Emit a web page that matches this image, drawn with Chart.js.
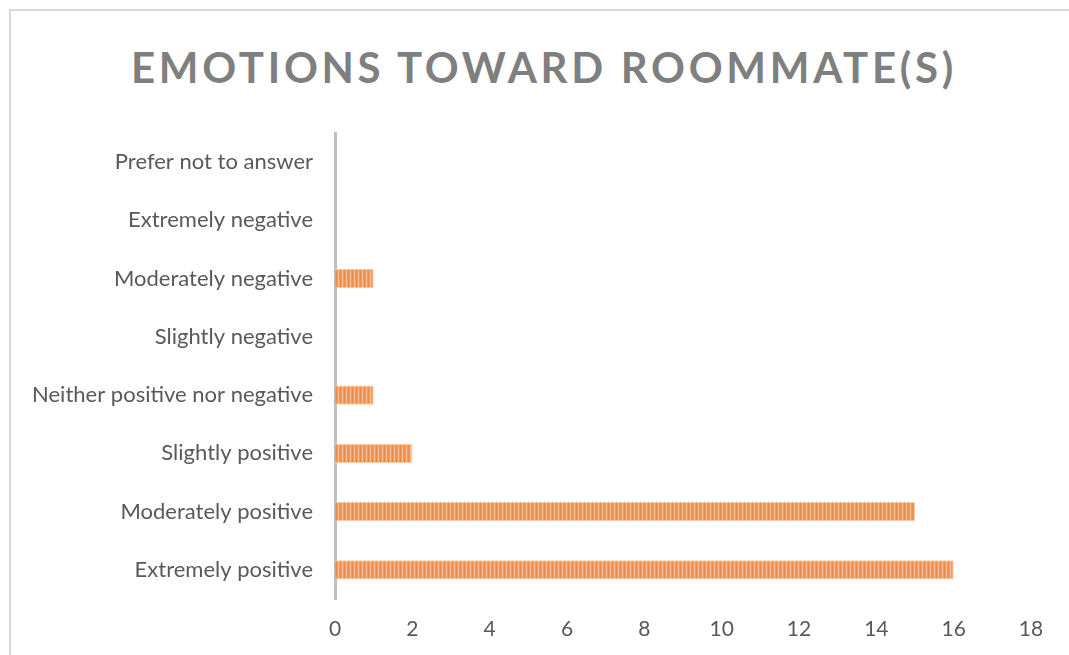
<!DOCTYPE html>
<html>
<head>
<meta charset="utf-8">
<script src="https://cdn.jsdelivr.net/npm/chart.js@4"></script>
<style>
  html, body { margin: 0; padding: 0; background: #fff; }
  #wrap { position: relative; width: 1069px; height: 655px; overflow: hidden; }
  #frame { position: absolute; left: 9px; top: 9px; width: 1100px; height: 700px; border: 2px solid #d9d9d9; box-sizing: border-box; }
  #title { position: absolute; left: 0; top: 42px; width: 1088px; text-align: center;
           font: bold 42px Lato, sans-serif; letter-spacing: 3.7px; color: #7f7f7f; }
  canvas { position: absolute; left: 0; top: 0; }
</style>
</head>
<body>
<div id="wrap">
  <div id="frame"></div>
  <div id="title">EMOTIONS TOWARD ROOMMATE(S)</div>
  <canvas id="emotionsChart" width="1069" height="655"></canvas>
</div>
<script>
// categories listed top to bottom, as in the picture
const categories = ['Prefer not to answer', 'Extremely negative', 'Moderately negative', 'Slightly negative',
  'Neither positive nor negative', 'Slightly positive', 'Moderately positive', 'Extremely positive'];
const counts = [0, 0, 1, 0, 1, 2, 15, 16];
const xTicks = [0, 2, 4, 6, 8, 10, 12, 14, 16, 18];

// vertical stripe fill like the original
function stripes() {
  const c = document.createElement('canvas');
  c.width = 4; c.height = 4;
  const g = c.getContext('2d');
  g.fillStyle = '#f29a5c'; g.fillRect(0, 0, 4, 4);
  g.fillStyle = '#f8bd92'; g.fillRect(2, 0, 1, 4);
  g.fillStyle = '#ef8d4b'; g.fillRect(0, 0, 1, 4);
  return g.createPattern(c, 'repeat');
}

const ctx = document.getElementById('emotionsChart').getContext('2d');
new Chart(ctx, {
  type: 'bar',
  data: {
    labels: categories,
    datasets: [{
      data: counts,
      backgroundColor: stripes(),
      borderColor: '#f8c9a5',
      borderWidth: 1,
      borderSkipped: 'start',
      barPercentage: 0.66,
      categoryPercentage: 0.5
    }]
  },
  options: {
    indexAxis: 'y',
    responsive: false,
    animation: false,
    layout: { padding: { top: 133, right: 38, left: 0, bottom: 0 } },
    plugins: { legend: { display: false }, tooltip: { enabled: false } },
    scales: {
      x: {
        min: 0, max: 18,
        afterBuildTicks: axis => { axis.ticks = xTicks.map(v => ({ value: v })); },
        afterFit: axis => { axis.height = 56; },
        grid: { display: false, drawTicks: false },
        border: { display: false },
        ticks: { color: '#595959', padding: 18, font: { family: 'Lato', size: 21 } }
      },
      y: {
        afterFit: axis => { axis.width = 335; },
        grid: { display: false, drawTicks: false },
        border: { display: true, color: '#bfbfbf', width: 3 },
        ticks: { color: '#595959', padding: 22, font: { family: 'Lato', size: 22 } }
      }
    }
  }
});
</script>
</body>
</html>
